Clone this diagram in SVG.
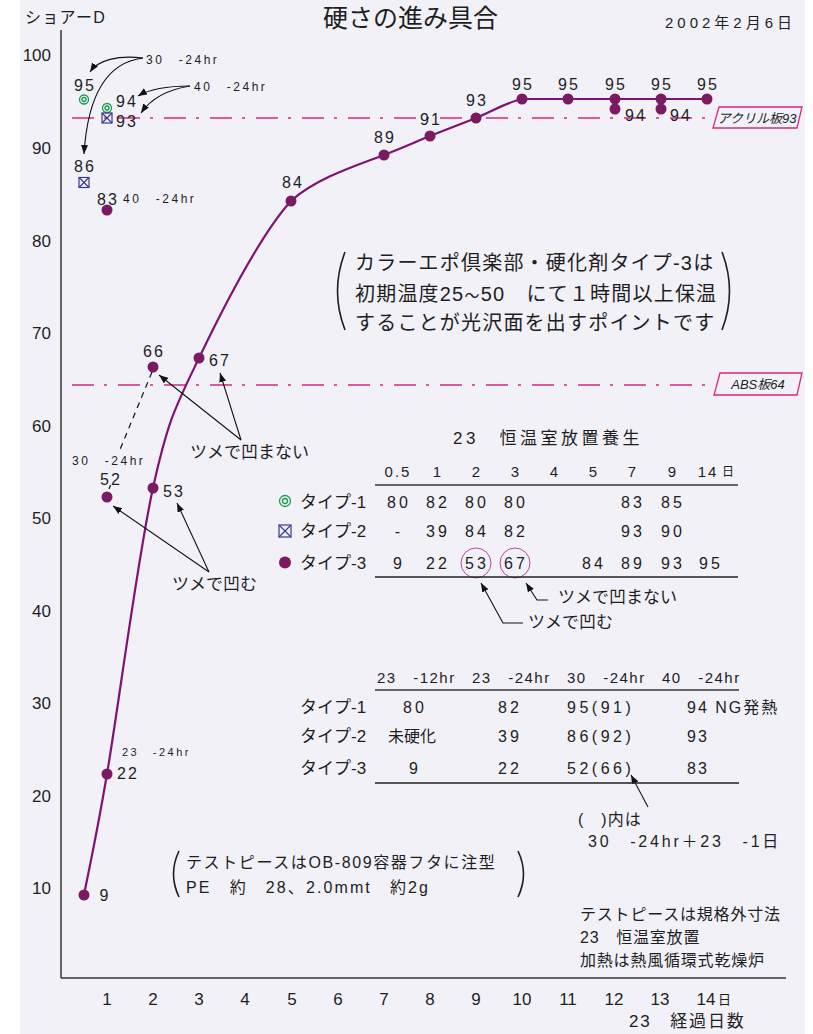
<svg xmlns="http://www.w3.org/2000/svg" width="813" height="1034" viewBox="0 0 813 1034">
<style>
text{font-family:"Liberation Sans","Noto Sans CJK JP",sans-serif;fill:#1e1e1e}
.ax{font-size:17px;text-anchor:end}
.xt{font-size:17px;text-anchor:middle}
.v{font-size:16px;letter-spacing:2px;text-anchor:middle}
.sm{font-size:12px;letter-spacing:2.5px}
.jp{font-size:17px}
.tv{font-size:16px;letter-spacing:3px;text-anchor:middle}
.th{font-size:15px;letter-spacing:2px;text-anchor:middle}
.t2{font-size:15px;letter-spacing:1.5px}
.t3{font-size:16px;letter-spacing:3.5px}
.box{font-size:13px;font-style:italic;text-anchor:middle}
.ref{stroke:#d42a80;stroke-width:1.3;stroke-dasharray:22 10 3 11;fill:none}
.refbox{fill:none;stroke:#d42a80;stroke-width:1.3}
.dot{fill:#7a1a60}
.g1{fill:none;stroke:#1e9a4e;stroke-width:1.3}
.g2{fill:none;stroke:#3a3a8c;stroke-width:1.2}
.arr{fill:none;stroke:#111;stroke-width:1.1;marker-end:url(#ah)}
.par{fill:none;stroke:#1e1e1e;stroke-width:1.6}
</style>
<defs>
<marker id="ah" markerUnits="userSpaceOnUse" markerWidth="10" markerHeight="8" refX="9" refY="3.5" orient="auto">
<path d="M0,0 L9,3.5 L0,7 z" fill="#111"/>
</marker>
</defs>
<rect x="20" y="0" width="785" height="1034" fill="#f2f1f8"/>

<g id="title">
<text x="25" y="23" style="font-size:16px;letter-spacing:1.3px">ショアーD</text>
<text x="323" y="27" style="font-size:25px">硬さの進み具合</text>
<text x="665" y="28" style="font-size:15px;letter-spacing:4px">2002年2月6日</text>
</g>

<g id="axes">
<line x1="61" y1="30" x2="61" y2="978" stroke="#333" stroke-width="1.5"/>
<line x1="61" y1="978" x2="786" y2="978" stroke="#333" stroke-width="1.5"/>
<text class="ax" x="51" y="61">100</text>
<text class="ax" x="51" y="153.5">90</text>
<text class="ax" x="51" y="246.5">80</text>
<text class="ax" x="51" y="339">70</text>
<text class="ax" x="51" y="431.5">60</text>
<text class="ax" x="51" y="524">50</text>
<text class="ax" x="51" y="616.5">40</text>
<text class="ax" x="51" y="709">30</text>
<text class="ax" x="51" y="801.5">20</text>
<text class="ax" x="51" y="894">10</text>
<text class="xt" x="107" y="1005">1</text>
<text class="xt" x="153" y="1005">2</text>
<text class="xt" x="199" y="1005">3</text>
<text class="xt" x="245" y="1005">4</text>
<text class="xt" x="292" y="1005">5</text>
<text class="xt" x="338" y="1005">6</text>
<text class="xt" x="384" y="1005">7</text>
<text class="xt" x="430" y="1005">8</text>
<text class="xt" x="476" y="1005">9</text>
<text class="xt" x="522" y="1005">10</text>
<text class="xt" x="568" y="1005">11</text>
<text class="xt" x="614" y="1005">12</text>
<text class="xt" x="660" y="1005">13</text>
<text class="xt" x="706" y="1005">14</text>
<text x="718" y="1004" style="font-size:13px">日</text>
<text x="629" y="1027" style="font-size:17px;letter-spacing:1.8px">23　経過日数</text>
</g>

<g id="acrylic-line">
<line class="ref" x1="72" y1="118" x2="712" y2="118"/>
<path class="refbox" d="M719,107 L802,107 L797,128 L713,128 Z"/>
<text class="box" x="757" y="122.5">アクリル板93</text>
</g>
<g id="abs-line">
<line class="ref" x1="72" y1="385" x2="712" y2="385"/>
<path class="refbox" d="M720,373 L802,373 L797,395 L714,395 Z"/>
<text class="box" x="758" y="389">ABS板64</text>
</g>

<g id="curve-type3">
<path d="M84,895 C87.8,874.8 95.5,841.8 107,774 C118.5,706.2 137.7,557.3 153,488 C168.3,418.7 176,405.8 199,358 C222,310.2 260.2,234.8 291,201 C316,178 358,165 384,155 C407.2,146 414.7,142.2 430,136 C445.3,129.8 460.7,124.2 476,118 C491.3,111.8 506.7,102.2 522,99 L707,99" fill="none" stroke="#7e1472" stroke-width="2.2"/>
</g>

<g id="points-type3">
<circle class="dot" cx="84" cy="895" r="5.5"/>
<circle class="dot" cx="107" cy="774" r="5.5"/>
<circle class="dot" cx="153" cy="488" r="5.5"/>
<circle class="dot" cx="199" cy="358" r="5.5"/>
<circle class="dot" cx="291" cy="201" r="5.5"/>
<circle class="dot" cx="384" cy="155" r="5.5"/>
<circle class="dot" cx="430" cy="136" r="5.5"/>
<circle class="dot" cx="476" cy="118" r="5.5"/>
<circle class="dot" cx="522" cy="99" r="5.5"/>
<circle class="dot" cx="568" cy="99" r="5.5"/>
<circle class="dot" cx="615" cy="99" r="5.5"/>
<circle class="dot" cx="661" cy="99" r="5.5"/>
<circle class="dot" cx="707" cy="99" r="5.5"/>
<circle class="dot" cx="615" cy="109" r="5.5"/>
<circle class="dot" cx="661" cy="109" r="5.5"/>
<circle class="dot" cx="153" cy="367" r="5.5"/>
<circle class="dot" cx="107" cy="497" r="5.5"/>
<circle class="dot" cx="107" cy="210" r="5.5"/>
</g>

<g id="points-type1">
<circle class="g1" cx="84" cy="99.5" r="4.5"/><circle class="g1" cx="84" cy="99.5" r="2"/>
<circle class="g1" cx="107" cy="108" r="4.5"/><circle class="g1" cx="107" cy="108" r="2"/>
</g>
<g id="points-type2">
<rect class="g2" x="102" y="113" width="10" height="10"/><path class="g2" d="M102,113 L112,123 M112,113 L102,123"/>
<rect class="g2" x="79" y="177.5" width="10" height="10"/><path class="g2" d="M79,177.5 L89,187.5 M89,177.5 L79,187.5"/>
</g>

<g id="point-labels">
<text class="v" x="85" y="91">95</text>
<text class="v" x="127" y="107">94</text>
<text class="v" x="127" y="127">93</text>
<text class="v" x="85" y="172">86</text>
<text class="v" x="108" y="205">83</text>
<text class="sm" x="123" y="203">40　-24hr</text>
<text class="v" x="293" y="188">84</text>
<text class="v" x="385" y="142.5">89</text>
<text class="v" x="431" y="125">91</text>
<text class="v" x="477" y="106">93</text>
<text class="v" x="523" y="90">95</text>
<text class="v" x="569" y="90">95</text>
<text class="v" x="616" y="90">95</text>
<text class="v" x="662" y="90">95</text>
<text class="v" x="708" y="90">95</text>
<text class="v" x="636" y="121">94</text>
<text class="v" x="681" y="121">94</text>
<text class="v" x="220" y="366">67</text>
<text class="v" x="154" y="357">66</text>
<text class="v" x="174" y="497">53</text>
<text class="v" x="111" y="485">52</text>
<text class="v" x="128" y="779">22</text>
<text class="v" x="105" y="901">9</text>
<text class="sm" x="72" y="465">30　-24hr</text>
<text class="sm" x="122" y="756" style="font-size:11px">23　-24hr</text>
<text class="sm" x="146" y="64">30　-24hr</text>
<text class="sm" x="194" y="91">40　-24hr</text>
</g>

<g id="connectors">
<path class="arr" d="M143,58 C118,55 98,60 90,72"/>
<path class="arr" d="M143,58 C110,62 88,90 84,154"/>
<path class="arr" d="M190,86 C165,86 148,90 138,96"/>
<path class="arr" d="M190,86 C165,90 150,100 141,113"/>
<path class="arr" d="M241,440 L159,375"/>
<path class="arr" d="M241,440 L220,373"/>
<path class="arr" d="M209,572 L113,506"/>
<path class="arr" d="M209,572 L177,503"/>
<path class="arr" d="M548,600 L537,600 L526,583"/>
<path class="arr" d="M523,623 L503,623 L481,583"/>
<path class="arr" d="M648,807 L631,775"/>
<path d="M152,372 L119,452 M109,489 L110.5,485" fill="none" stroke="#111" stroke-width="1.2" stroke-dasharray="6 5"/>
</g>

<g id="note-tsume">
<text class="jp" x="190" y="458">ツメで凹まない</text>
<text class="jp" x="172" y="590">ツメで凹む</text>
</g>

<g id="note-point">
<path class="par" d="M345,252 Q330,291 345,330"/>
<path class="par" d="M722,252 Q737,291 722,330"/>
<text x="355" y="270" style="font-size:20px;letter-spacing:1.2px">カラーエポ倶楽部・硬化剤タイプ-3は</text>
<text x="355" y="301" style="font-size:20px;letter-spacing:1.2px">初期温度25<tspan style="font-size:15px">～</tspan>50　にて１時間以上保温</text>
<text x="355" y="330" style="font-size:20px;letter-spacing:1.2px">することが光沢面を出すポイントです</text>
</g>

<g id="table1">
<text x="453" y="444" style="font-size:17px;letter-spacing:3.5px">23　恒温室放置養生</text>
<text class="th" x="398" y="477">0.5</text>
<text class="th" x="438" y="477">1</text>
<text class="th" x="477" y="477">2</text>
<text class="th" x="516" y="477">3</text>
<text class="th" x="555" y="477">4</text>
<text class="th" x="594" y="477">5</text>
<text class="th" x="633" y="477">7</text>
<text class="th" x="673" y="477">9</text>
<text class="th" x="708" y="477">14</text>
<text x="722" y="476" style="font-size:12px">日</text>
<line x1="375" y1="485" x2="738" y2="485" stroke="#666" stroke-width="2"/>
<circle class="g1" cx="285" cy="501" r="5.5"/><circle class="g1" cx="285" cy="501" r="2.5"/>
<rect class="g2" x="279" y="525" width="12" height="12"/><path class="g2" d="M279,525 L291,537 M291,525 L279,537"/>
<circle class="dot" cx="285" cy="562.5" r="6"/>
<text class="jp" x="300" y="507.5">タイプ-1</text>
<text class="jp" x="300" y="537">タイプ-2</text>
<text class="jp" x="300" y="569">タイプ-3</text>
<text class="tv" x="399" y="507.5">80</text>
<text class="tv" x="438" y="507.5">82</text>
<text class="tv" x="477" y="507.5">80</text>
<text class="tv" x="516" y="507.5">80</text>
<text class="tv" x="633" y="507.5">83</text>
<text class="tv" x="673" y="507.5">85</text>
<text class="tv" x="399" y="537">-</text>
<text class="tv" x="438" y="537">39</text>
<text class="tv" x="477" y="537">84</text>
<text class="tv" x="516" y="537">82</text>
<text class="tv" x="633" y="537">93</text>
<text class="tv" x="673" y="537">90</text>
<text class="tv" x="399" y="569">9</text>
<text class="tv" x="438" y="569">22</text>
<text class="tv" x="477" y="569">53</text>
<text class="tv" x="516" y="569">67</text>
<text class="tv" x="594" y="569">84</text>
<text class="tv" x="633" y="569">89</text>
<text class="tv" x="673" y="569">93</text>
<text class="tv" x="711" y="569">95</text>
<circle cx="476" cy="563" r="15" fill="none" stroke="#b04a9a" stroke-width="1"/>
<circle cx="515" cy="563" r="15" fill="none" stroke="#b04a9a" stroke-width="1"/>
<line x1="375" y1="577" x2="738" y2="577" stroke="#222" stroke-width="1.5"/>
<text class="jp" x="558" y="603">ツメで凹まない</text>
<text class="jp" x="528" y="628">ツメで凹む</text>
</g>

<g id="table2">
<text class="t2" x="377" y="683">23　-12hr</text>
<text class="t2" x="472" y="683">23　-24hr</text>
<text class="t2" x="567" y="683">30　-24hr</text>
<text class="t2" x="662" y="683">40　-24hr</text>
<line x1="375" y1="690" x2="739" y2="690" stroke="#666" stroke-width="2"/>
<text class="jp" x="300" y="713">タイプ-1</text>
<text class="jp" x="300" y="742">タイプ-2</text>
<text class="jp" x="300" y="774">タイプ-3</text>
<text class="tv" x="415" y="713">80</text>
<text class="tv" x="510" y="713">82</text>
<text class="t3" x="567" y="713">95(91)</text>
<text class="t2" x="687" y="713" style="font-size:16px;letter-spacing:2px">94 NG発熱</text>
<text x="388" y="742" style="font-size:16px">未硬化</text>
<text class="tv" x="510" y="742">39</text>
<text class="t3" x="567" y="742">86(92)</text>
<text class="t2" x="687" y="742" style="font-size:16px;letter-spacing:2px">93</text>
<text class="tv" x="415" y="774">9</text>
<text class="tv" x="510" y="774">22</text>
<text class="t3" x="567" y="774">52(66)</text>
<text class="t2" x="687" y="774" style="font-size:16px;letter-spacing:2px">83</text>
<line x1="375" y1="783" x2="739" y2="783" stroke="#222" stroke-width="1.5"/>
<text x="578" y="825" style="font-size:16px;letter-spacing:1px">(　)内は</text>
<text x="588" y="847" style="font-size:16px;letter-spacing:2.8px">30　-24hr＋23　-1日</text>
</g>

<g id="note-testpiece">
<path class="par" d="M179,851 Q168,874 179,897"/>
<path class="par" d="M518,851 Q529,874 518,897"/>
<text x="186" y="868" style="font-size:16px;letter-spacing:1.6px">テストピースはOB-809容器フタに注型</text>
<text x="186" y="893" style="font-size:16px;letter-spacing:2.1px">PE　約　28、2.0mmt　約2g</text>
</g>

<g id="note-conditions">
<text x="580" y="920" style="font-size:16px;letter-spacing:0.8px">テストピースは規格外寸法</text>
<text x="580" y="943" style="font-size:16px;letter-spacing:0.8px">23　恒温室放置</text>
<text x="580" y="966" style="font-size:16px;letter-spacing:0.8px">加熱は熱風循環式乾燥炉</text>
</g>
</svg>
